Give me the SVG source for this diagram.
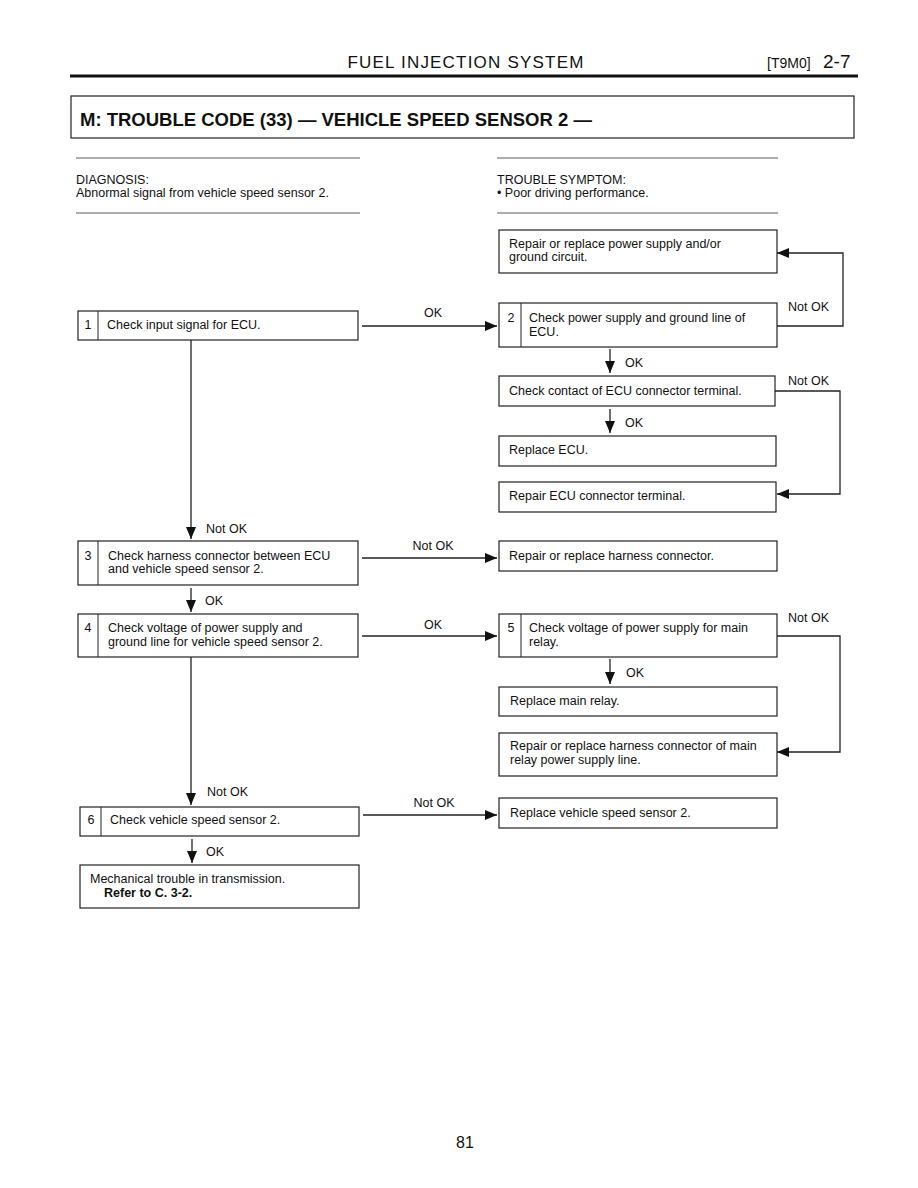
<svg xmlns="http://www.w3.org/2000/svg" width="918" height="1188" viewBox="0 0 918 1188">
<style>
text{font-family:"Liberation Sans",Arial,sans-serif;fill:#111;font-size:12.5px}
.box{fill:#fff;stroke:#222;stroke-width:1.2}
.div{stroke:#222;stroke-width:1}
.ln{fill:none;stroke:#222;stroke-width:1.3}
.rule{stroke:#333;stroke-width:0.8}
</style>
<defs>
<marker id="ah" viewBox="0 0 12 10" refX="12" refY="5" markerWidth="12" markerHeight="10" markerUnits="userSpaceOnUse" orient="auto">
<path d="M0,0 L12,5 L0,10 Z" fill="#111"/>
</marker>
</defs>
<rect width="918" height="1188" fill="#fff"/>
<g id="header">
<text x="466" y="68" text-anchor="middle" style="font-size:17px;letter-spacing:1.2px">FUEL INJECTION SYSTEM</text>
<text x="767" y="68" style="font-size:14px">[T9M0]</text>
<text x="823" y="68" style="font-size:19px">2-7</text>
<line x1="70" y1="76" x2="858" y2="76" stroke="#111" stroke-width="3"/>
</g>
<g id="title">
<rect x="71" y="96" width="783" height="42" fill="none" stroke="#222" stroke-width="1.2"/>
<text x="80" y="126" style="font-size:18.5px;font-weight:bold">M:  TROUBLE CODE (33) — VEHICLE SPEED SENSOR 2 —</text>
</g>
<g id="info">
<line class="rule" x1="76" y1="158" x2="360" y2="158"/>
<line class="rule" x1="76" y1="213" x2="360" y2="213"/>
<line class="rule" x1="497" y1="158" x2="778" y2="158"/>
<line class="rule" x1="497" y1="213" x2="778" y2="213"/>
<text x="76" y="184">DIAGNOSIS:</text>
<text x="76" y="197">Abnormal signal from vehicle speed sensor 2.</text>
<text x="497" y="184">TROUBLE SYMPTOM:</text>
<text x="497" y="197">•  Poor driving performance.</text>
</g>
<g id="connectors">
<line class="ln" x1="362" y1="326" x2="497" y2="326" marker-end="url(#ah)"/>
<polyline class="ln" points="777,326 843,326 843,253 777,253" marker-end="url(#ah)"/>
<line class="ln" x1="610" y1="349" x2="610" y2="373" marker-end="url(#ah)"/>
<polyline class="ln" points="775,391 840,391 840,494 777,494" marker-end="url(#ah)"/>
<line class="ln" x1="610" y1="409" x2="610" y2="433" marker-end="url(#ah)"/>
<line class="ln" x1="191" y1="340" x2="191" y2="539" marker-end="url(#ah)"/>
<line class="ln" x1="362" y1="558" x2="497" y2="558" marker-end="url(#ah)"/>
<line class="ln" x1="191" y1="588" x2="191" y2="612" marker-end="url(#ah)"/>
<line class="ln" x1="362" y1="636" x2="497" y2="636" marker-end="url(#ah)"/>
<polyline class="ln" points="777,636 840,636 840,752 777,752" marker-end="url(#ah)"/>
<line class="ln" x1="610" y1="659" x2="610" y2="684" marker-end="url(#ah)"/>
<line class="ln" x1="191" y1="657" x2="191" y2="805" marker-end="url(#ah)"/>
<line class="ln" x1="363" y1="815" x2="497" y2="815" marker-end="url(#ah)"/>
<line class="ln" x1="192" y1="839" x2="192" y2="863" marker-end="url(#ah)"/>
<text x="433" y="317" text-anchor="middle">OK</text>
<text x="788" y="311">Not OK</text>
<text x="625" y="367">OK</text>
<text x="788" y="385">Not OK</text>
<text x="625" y="427">OK</text>
<text x="206" y="533">Not OK</text>
<text x="433" y="550" text-anchor="middle">Not OK</text>
<text x="205" y="605">OK</text>
<text x="433" y="629" text-anchor="middle">OK</text>
<text x="788" y="622">Not OK</text>
<text x="626" y="677">OK</text>
<text x="207" y="796">Not OK</text>
<text x="434" y="807" text-anchor="middle">Not OK</text>
<text x="206" y="856">OK</text>
</g>
<g id="nodeA">
<rect class="box" x="499" y="230" width="278" height="43"/>
<text x="509" y="248">Repair or replace power supply and/or</text>
<text x="509" y="261">ground circuit.</text>
</g>
<g id="node1">
<rect class="box" x="78" y="311" width="280" height="29"/>
<line class="div" x1="98" y1="311" x2="98" y2="340"/>
<text x="88" y="329" text-anchor="middle">1</text>
<text x="107" y="329">Check input signal for ECU.</text>
</g>
<g id="node2">
<rect class="box" x="499" y="303" width="278" height="44"/>
<line class="div" x1="521" y1="303" x2="521" y2="347"/>
<text x="511" y="322" text-anchor="middle">2</text>
<text x="529" y="322">Check power supply and ground line of</text>
<text x="529" y="336">ECU.</text>
</g>
<g id="nodeC">
<rect class="box" x="499" y="376" width="276" height="30"/>
<text x="509" y="395">Check contact of ECU connector terminal.</text>
</g>
<g id="nodeD">
<rect class="box" x="499" y="436" width="277" height="30"/>
<text x="509" y="454">Replace ECU.</text>
</g>
<g id="nodeE">
<rect class="box" x="499" y="482" width="277" height="30"/>
<text x="509" y="500">Repair ECU connector terminal.</text>
</g>
<g id="node3">
<rect class="box" x="78" y="541" width="280" height="44"/>
<line class="div" x1="98" y1="541" x2="98" y2="585"/>
<text x="88" y="560" text-anchor="middle">3</text>
<text x="108" y="560">Check harness connector between ECU</text>
<text x="108" y="573">and vehicle speed sensor 2.</text>
</g>
<g id="nodeF">
<rect class="box" x="499" y="541" width="278" height="30"/>
<text x="509" y="560">Repair or replace harness connector.</text>
</g>
<g id="node4">
<rect class="box" x="78" y="614" width="280" height="43"/>
<line class="div" x1="98" y1="614" x2="98" y2="657"/>
<text x="88" y="632" text-anchor="middle">4</text>
<text x="108" y="632">Check voltage of power supply and</text>
<text x="108" y="646">ground line for vehicle speed sensor 2.</text>
</g>
<g id="node5">
<rect class="box" x="499" y="614" width="278" height="43"/>
<line class="div" x1="521" y1="614" x2="521" y2="657"/>
<text x="511" y="632" text-anchor="middle">5</text>
<text x="529" y="632">Check voltage of power supply for main</text>
<text x="529" y="646">relay.</text>
</g>
<g id="nodeG">
<rect class="box" x="499" y="687" width="278" height="29"/>
<text x="510" y="705">Replace main relay.</text>
</g>
<g id="nodeH">
<rect class="box" x="499" y="733" width="278" height="43"/>
<text x="510" y="750">Repair or replace harness connector of main</text>
<text x="510" y="764">relay power supply line.</text>
</g>
<g id="node6">
<rect class="box" x="80" y="807" width="279" height="29"/>
<line class="div" x1="101" y1="807" x2="101" y2="836"/>
<text x="91" y="824" text-anchor="middle">6</text>
<text x="110" y="824">Check vehicle speed sensor 2.</text>
</g>
<g id="nodeI">
<rect class="box" x="499" y="798" width="278" height="30"/>
<text x="510" y="817">Replace vehicle speed sensor 2.</text>
</g>
<g id="nodeJ">
<rect class="box" x="80" y="865" width="279" height="43"/>
<text x="90" y="883">Mechanical trouble in transmission.</text>
<text x="104" y="897" style="font-weight:bold">Refer to C. 3-2.</text>
</g>
<g id="footer">
<text x="465" y="1148" text-anchor="middle" style="font-size:16px">81</text>
</g>
</svg>
